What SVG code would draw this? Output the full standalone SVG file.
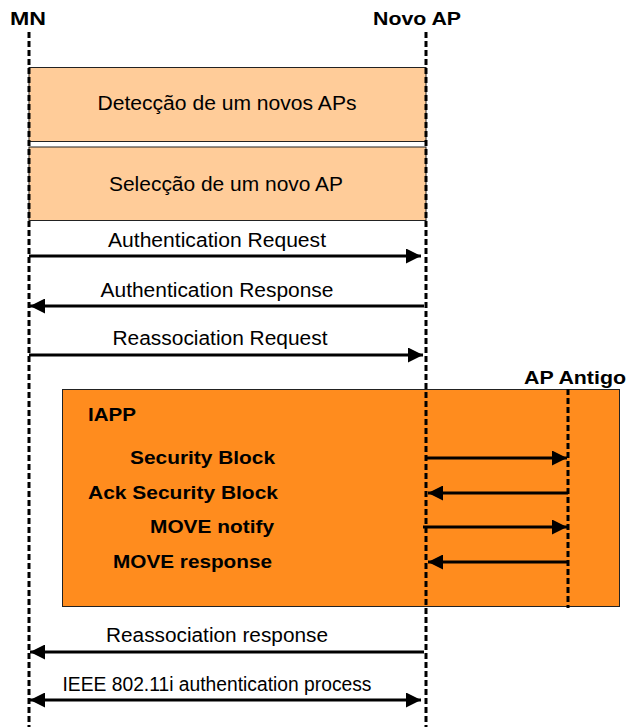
<svg xmlns="http://www.w3.org/2000/svg" width="626" height="727" viewBox="0 0 626 727">
<defs>
<style>
.t{font-family:"Liberation Sans",Arial,sans-serif;font-size:19.5px;fill:#000}
.b{font-family:"Liberation Sans",Arial,sans-serif;font-size:19px;font-weight:bold;fill:#000}
.life{stroke:#000;stroke-width:3;stroke-dasharray:6,3;fill:none}
.msg{stroke:#000;stroke-width:3;fill:none}
.box1{fill:#FFCC99;stroke:#222;stroke-width:1}
.box2{fill:#FF8C1E;stroke:#222;stroke-width:1}
</style>
<marker id="ah" viewBox="0 0 10 10" refX="10" refY="5" markerWidth="7.5" markerHeight="5" markerUnits="strokeWidth" orient="auto-start-reverse">
<path d="M0,0 L10,5 L0,10 Z" fill="#000"/>
</marker>
</defs>

<g id="iapp">
<rect class="box2" x="62.5" y="389.5" width="557" height="217"/>
<text class="b" x="88" y="421" textLength="48" lengthAdjust="spacingAndGlyphs">IAPP</text>
<text class="b" x="275" y="464" text-anchor="end" textLength="145" lengthAdjust="spacingAndGlyphs">Security Block</text>
<text class="b" x="278" y="499" text-anchor="end" textLength="190" lengthAdjust="spacingAndGlyphs">Ack Security Block</text>
<text class="b" x="274" y="533" text-anchor="end" textLength="124" lengthAdjust="spacingAndGlyphs">MOVE notify</text>
<text class="b" x="272" y="568" text-anchor="end" textLength="159" lengthAdjust="spacingAndGlyphs">MOVE response</text>
</g>

<g id="deteccao">
<rect class="box1" x="29" y="67.5" width="397" height="74"/>
<text class="t" x="227" y="110" text-anchor="middle" textLength="259" lengthAdjust="spacingAndGlyphs">Detecção de um novos APs</text>
</g>
<g id="seleccao">
<rect class="box1" x="29" y="147" width="397" height="73.5"/>
<text class="t" x="226" y="191" text-anchor="middle" textLength="234" lengthAdjust="spacingAndGlyphs">Selecção de um novo AP</text>
</g>

<g id="mn">
<text class="b" x="28" y="25" text-anchor="middle" textLength="36" lengthAdjust="spacingAndGlyphs">MN</text>
<line class="life" x1="29" y1="32" x2="29" y2="727"/>
</g>
<g id="novo-ap">
<text class="b" x="417" y="25" text-anchor="middle" textLength="88" lengthAdjust="spacingAndGlyphs">Novo AP</text>
<line class="life" x1="426" y1="32" x2="426" y2="727"/>
</g>
<g id="ap-antigo">
<text class="b" x="575" y="384" text-anchor="middle" textLength="102" lengthAdjust="spacingAndGlyphs">AP Antigo</text>
<line class="life" x1="568" y1="389" x2="568" y2="608"/>
</g>

<g id="connectors">
<line class="msg" x1="29" y1="256" x2="421" y2="256" marker-end="url(#ah)"/>
<text class="t" x="217" y="247" text-anchor="middle" textLength="218" lengthAdjust="spacingAndGlyphs">Authentication Request</text>

<line class="msg" x1="424" y1="306" x2="30" y2="306" marker-end="url(#ah)"/>
<text class="t" x="217" y="297" text-anchor="middle" textLength="233" lengthAdjust="spacingAndGlyphs">Authentication Response</text>

<line class="msg" x1="29" y1="355" x2="423" y2="355" marker-end="url(#ah)"/>
<text class="t" x="220" y="345" text-anchor="middle" textLength="215" lengthAdjust="spacingAndGlyphs">Reassociation Request</text>

<line class="msg" x1="425" y1="458" x2="567" y2="458" marker-end="url(#ah)"/>
<line class="msg" x1="568" y1="493" x2="428" y2="493" marker-end="url(#ah)"/>
<line class="msg" x1="423" y1="527" x2="567" y2="527" marker-end="url(#ah)"/>
<line class="msg" x1="568" y1="562" x2="428" y2="562" marker-end="url(#ah)"/>

<line class="msg" x1="424" y1="652" x2="30" y2="652" marker-end="url(#ah)"/>
<text class="t" x="217" y="642" text-anchor="middle" textLength="222" lengthAdjust="spacingAndGlyphs">Reassociation response</text>

<line class="msg" x1="30" y1="700" x2="421" y2="700" marker-start="url(#ah)" marker-end="url(#ah)"/>
<text class="t" x="217" y="691" text-anchor="middle" textLength="309" lengthAdjust="spacingAndGlyphs">IEEE 802.11i authentication process</text>
</g>
</svg>
